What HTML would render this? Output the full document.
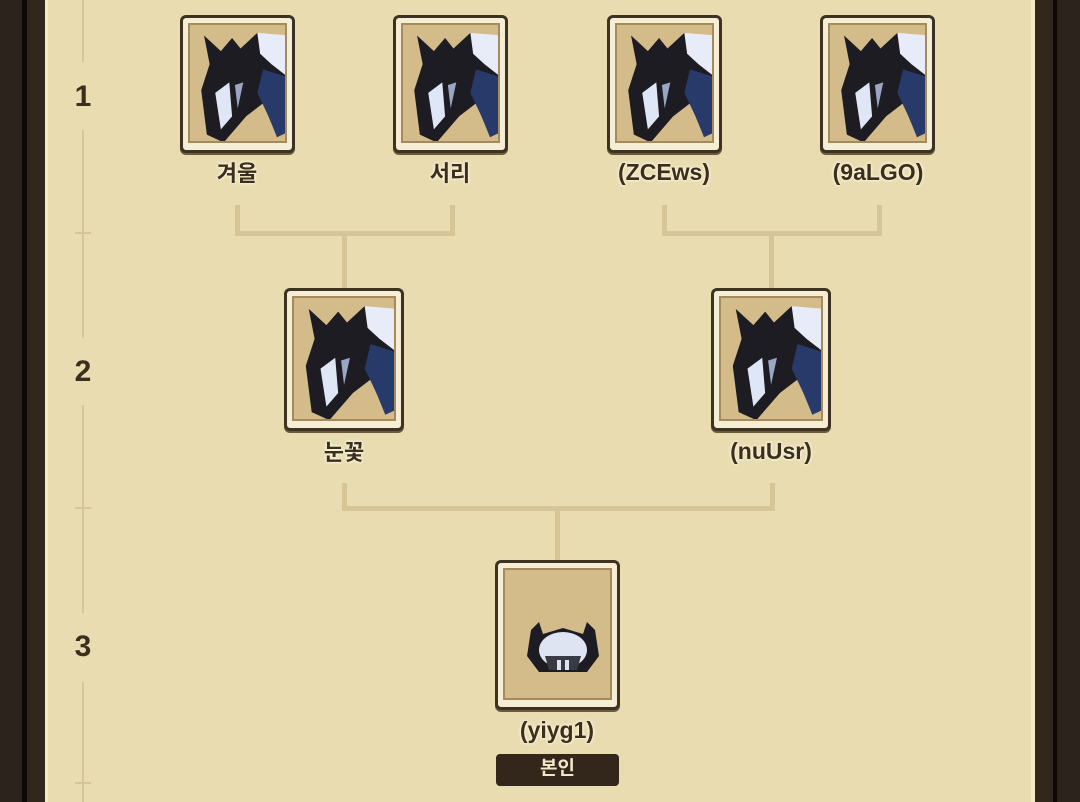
<!DOCTYPE html><html><head><meta charset="utf-8"><style>
body{margin:0;width:1080px;height:802px;overflow:hidden;background:#e8dcb0;position:relative;font-family:"Liberation Sans","Noto Sans CJK KR",sans-serif}
.a{position:absolute}
.card{position:absolute;box-sizing:border-box;background:#f6eed4;border:3px solid #3e3222;border-radius:6px;box-shadow:0 2px 0 #6b5a40}
.card .in{position:absolute;left:5px;top:5px;right:5px;bottom:7px;background:#d4bc8a;border:2px solid #a48a5c;box-sizing:border-box;overflow:hidden}
.lbl{position:absolute;font-weight:bold;font-size:23px;color:#3a2e1e;text-align:center;width:200px;text-shadow:0 0 3px #fff8e0,0 0 3px #fff8e0}
.k{font-size:22px;margin-top:-1px}
.ln{position:absolute;background:#d6c596}
.num{position:absolute;left:70px;width:26px;text-align:center;font-weight:bold;font-size:30px;color:#3a2e1e}
</style></head><body>
<div class="a" style="left:0;top:0;width:22px;height:802px;background:#2b231c"></div>
<div class="a" style="left:22px;top:0;width:5px;height:802px;background:#0c0806"></div>
<div class="a" style="left:27px;top:0;width:18px;height:802px;background:#32271d"></div>
<div class="a" style="left:45px;top:0;width:3px;height:802px;background:#f3eac2"></div>
<div class="a" style="left:1031px;top:0;width:4px;height:802px;background:#f3eac2"></div>
<div class="a" style="left:1035px;top:0;width:18px;height:802px;background:#32271d"></div>
<div class="a" style="left:1053px;top:0;width:4px;height:802px;background:#0c0806"></div>
<div class="a" style="left:1057px;top:0;width:23px;height:802px;background:#2b231c"></div>

<div class="ln" style="left:82px;top:0;width:2px;height:62px"></div>
<div class="ln" style="left:82px;top:130px;width:2px;height:208px"></div>
<div class="ln" style="left:82px;top:405px;width:2px;height:208px"></div>
<div class="ln" style="left:82px;top:682px;width:2px;height:120px"></div>
<div class="ln" style="left:75px;top:232px;width:16px;height:2px"></div>
<div class="ln" style="left:75px;top:507px;width:16px;height:2px"></div>
<div class="ln" style="left:75px;top:782px;width:16px;height:2px"></div>
<div class="num" style="top:80px">1</div>
<div class="num" style="top:355px">2</div>
<div class="num" style="top:630px">3</div>

<div class="ln" style="left:235px;top:205px;width:5px;height:31px"></div>
<div class="ln" style="left:450px;top:205px;width:5px;height:31px"></div>
<div class="ln" style="left:235px;top:231px;width:220px;height:5px"></div>
<div class="ln" style="left:342px;top:231px;width:5px;height:58px"></div>
<div class="ln" style="left:662px;top:205px;width:5px;height:31px"></div>
<div class="ln" style="left:877px;top:205px;width:5px;height:31px"></div>
<div class="ln" style="left:662px;top:231px;width:220px;height:5px"></div>
<div class="ln" style="left:769px;top:231px;width:5px;height:58px"></div>
<div class="ln" style="left:342px;top:483px;width:5px;height:28px"></div>
<div class="ln" style="left:770px;top:483px;width:5px;height:28px"></div>
<div class="ln" style="left:342px;top:506px;width:433px;height:5px"></div>
<div class="ln" style="left:555px;top:506px;width:5px;height:56px"></div>

<svg width="0" height="0" style="position:absolute"><defs>
<g id="drg">
<path d="M10 8 L22 20 L30 10 L36 18 L48 6 L62 12 L70 40 L70 80 L60 80 L52 60 L40 70 L24 90 L12 84 L8 50 L14 30 Z" fill="#1c1c22"/>
<path d="M48 6 L70 8 L70 40 L58 30 L50 22 Z" fill="#e8ecf8"/>
<path d="M52 34 L70 40 L70 82 L62 86 L56 70 L48 52 Z" fill="#283a6a"/>
<path d="M18 52 L28 44 L30 70 L22 80 Z" fill="#dfe6f5"/>
<path d="M32 46 L38 44 L34 64 Z" fill="#9aa6c4"/>
</g></defs></svg>

<div class="card" style="left:180px;top:15px;width:115px;height:138px"><div class="in"><svg viewBox="0 0 72 95" width="101" height="124" style="position:absolute;left:0;top:0" preserveAspectRatio="none"><use href="#drg"/></svg></div></div>
<div class="card" style="left:393px;top:15px;width:115px;height:138px"><div class="in"><svg viewBox="0 0 72 95" width="101" height="124" style="position:absolute;left:0;top:0" preserveAspectRatio="none"><use href="#drg"/></svg></div></div>
<div class="card" style="left:607px;top:15px;width:115px;height:138px"><div class="in"><svg viewBox="0 0 72 95" width="101" height="124" style="position:absolute;left:0;top:0" preserveAspectRatio="none"><use href="#drg"/></svg></div></div>
<div class="card" style="left:820px;top:15px;width:115px;height:138px"><div class="in"><svg viewBox="0 0 72 95" width="101" height="124" style="position:absolute;left:0;top:0" preserveAspectRatio="none"><use href="#drg"/></svg></div></div>
<div class="lbl k" style="left:137px;top:157px">겨울</div>
<div class="lbl k" style="left:350px;top:157px">서리</div>
<div class="lbl" style="left:564px;top:159px">(ZCEws)</div>
<div class="lbl" style="left:778px;top:159px">(9aLGO)</div>

<div class="card" style="left:284px;top:288px;width:120px;height:143px"><div class="in"><svg viewBox="0 0 72 95" width="106" height="129" style="position:absolute;left:0;top:0" preserveAspectRatio="none"><use href="#drg"/></svg></div></div>
<div class="card" style="left:711px;top:288px;width:120px;height:143px"><div class="in"><svg viewBox="0 0 72 95" width="106" height="129" style="position:absolute;left:0;top:0" preserveAspectRatio="none"><use href="#drg"/></svg></div></div>
<div class="lbl k" style="left:244px;top:436px">눈꽃</div>
<div class="lbl" style="left:671px;top:438px">(nuUsr)</div>

<div class="card" style="left:495px;top:560px;width:125px;height:150px"><div class="in">
<svg width="80" height="60" viewBox="0 0 80 60" style="position:absolute;left:18px;top:50px"><path d="M8 10 L16 2 L20 14 L40 8 L60 14 L64 2 L72 10 L76 36 L64 52 L16 52 L4 36 Z" fill="#1c1c22"/><ellipse cx="40" cy="30" rx="24" ry="18" fill="#dfe4f2"/><path d="M22 36 L58 36 L54 50 L26 50Z" fill="#3a3a44"/><rect x="34" y="40" width="4" height="10" fill="#dfe4f2"/><rect x="42" y="40" width="4" height="10" fill="#dfe4f2"/></svg></div></div>
<div class="lbl" style="left:457px;top:717px">(yiyg1)</div>
<div class="a" style="left:496px;top:754px;width:123px;height:32px;background:#33271b;border-radius:4px;color:#f0e6c8;font-weight:bold;font-size:19px;text-align:center;line-height:30px">본인</div>
</body></html>
